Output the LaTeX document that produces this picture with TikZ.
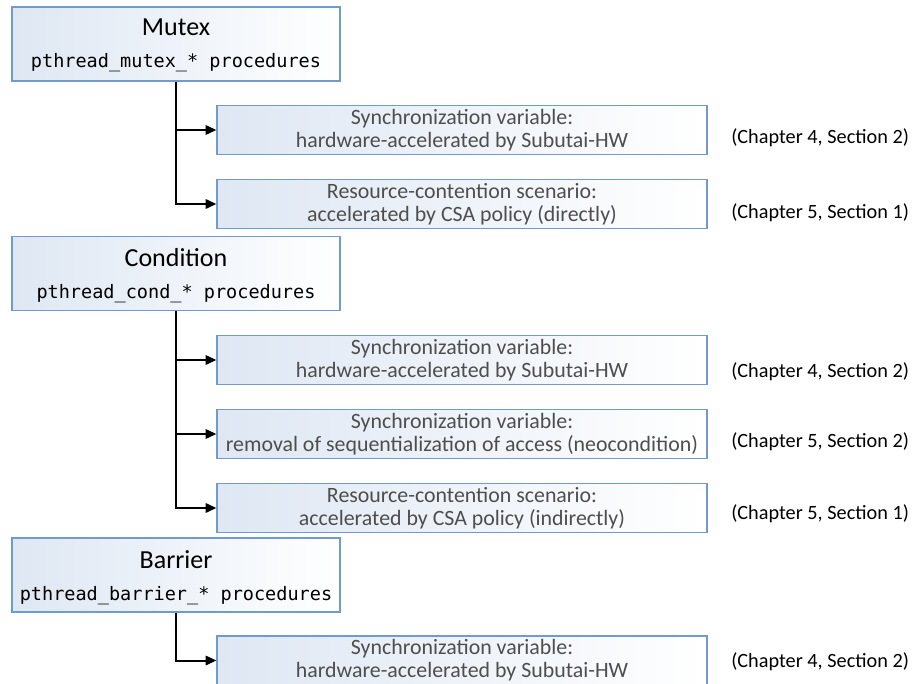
\documentclass[tikz,border=0pt]{standalone}
\usepackage{fontspec}
\setmainfont{Carlito}
\newfontfamily\codefont{DejaVu Sans Mono}
\usetikzlibrary{arrows.meta}
\definecolor{boxedge}{RGB}{111,155,208}
\definecolor{boxtint}{RGB}{222,231,243}
\definecolor{notegray}{RGB}{78,78,78}
\begin{document}
\begin{tikzpicture}[x=0.75pt,y=-0.75pt,
  panel/.style={draw=boxedge, line width=0.9pt, left color=boxtint, right color=white, inner sep=0pt},
  groupbox/.style={panel, minimum width=246pt, minimum height=55.5pt},
  itembox/.style={panel, minimum width=367.5pt, minimum height=36.75pt,
    align=center, font=\fontsize{16.4}{17.25}\selectfont, text=notegray},
  heading/.style={font=\fontsize{19.5}{20}\selectfont, anchor=base, inner sep=0pt},
  apiname/.style={font=\codefont\fontsize{13.9}{15}\selectfont, anchor=base, inner sep=0pt},
  chapref/.style={font=\fontsize{15.2}{16}\selectfont, anchor=base west, inner sep=0pt},
  link/.style={line width=1.5pt, -{Triangle[length=8pt,width=7pt]}}
]
\clip (0,0) rectangle (912,684);

% primitive groups
\node[groupbox] (mutex) at (176,44) {};
\node[heading] (mutexT) at (176,36) {Mutex};
\node[apiname] (mutexP) at (176,68) {pthread\_mutex\_* procedures};

\node[groupbox] (cond) at (176,273.5) {};
\node[heading] (condT) at (176,266) {Condition};
\node[apiname] (condP) at (176,298) {pthread\_cond\_* procedures};

\node[groupbox] (barrier) at (176,575) {};
\node[heading] (barrierT) at (176,568) {Barrier};
\node[apiname] (barrierP) at (176,600) {pthread\_barrier\_* procedures};

% acceleration items
\node[itembox] (m1) at (462,130) {Synchronization variable:\\hardware-accelerated by Subutai-HW};
\node[itembox] (m2) at (462,204) {Resource-contention scenario:\\accelerated by CSA policy (directly)};
\node[itembox] (c1) at (462,360) {Synchronization variable:\\hardware-accelerated by Subutai-HW};
\node[itembox] (c2) at (462,434) {Synchronization variable:\\removal of sequentialization of access (neocondition)};
\node[itembox] (c3) at (462,508) {Resource-contention scenario:\\accelerated by CSA policy (indirectly)};
\node[itembox] (b1) at (462,660.5) {Synchronization variable:\\hardware-accelerated by Subutai-HW};

% chapter references
\node[chapref] (r1) at (731,144) {(Chapter 4, Section 2)};
\node[chapref] (r2) at (731,219) {(Chapter 5, Section 1)};
\node[chapref] (r3) at (731,377) {(Chapter 4, Section 2)};
\node[chapref] (r4) at (731,447) {(Chapter 5, Section 2)};
\node[chapref] (r5) at (731,519) {(Chapter 5, Section 1)};
\node[chapref] (r6) at (731,667) {(Chapter 4, Section 2)};

% tree connectors
\draw[link] (mutex.south) |- (m1.west);
\draw[link] (mutex.south) |- (m2.west);
\draw[link] (cond.south) |- (c1.west);
\draw[link] (cond.south) |- (c2.west);
\draw[link] (cond.south) |- (c3.west);
\draw[link] (barrier.south) |- (b1.west);
\end{tikzpicture}
\end{document}
